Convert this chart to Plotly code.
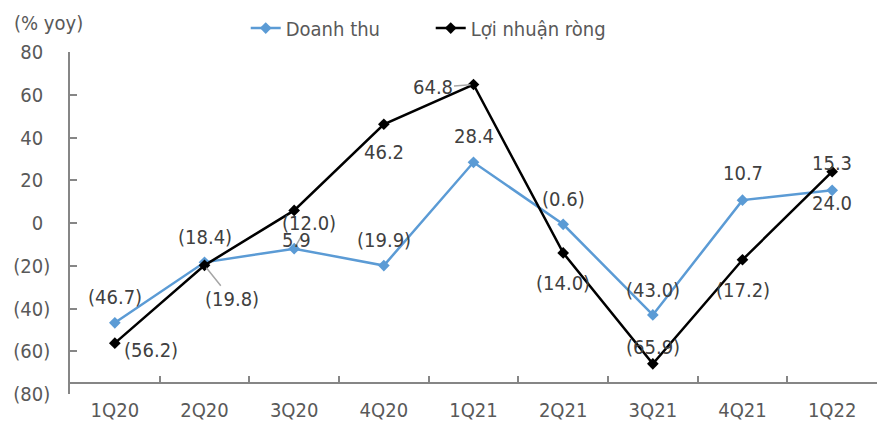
import plotly.graph_objects as go

categories = ["1Q20", "2Q20", "3Q20", "4Q20", "1Q21", "2Q21", "3Q21", "4Q21", "1Q22"]
doanh_thu = [-46.7, -18.4, -12.0, -19.9, 28.4, -0.6, -43.0, 10.7, 15.3]
loi_nhuan = [-56.2, -19.8, 5.9, 46.2, 64.8, -14.0, -65.9, -17.2, 24.0]
y_ticks = [-80, -60, -40, -20, 0, 20, 40, 60, 80]

# label placement offsets (pixels): (dx, dy-up, leader)
dt_offsets = [(0, 26, False), (0, 25, False), (15, 26, True), (0, 26, False), (0, 26, False),
              (0, 25, False), (0, 25, False), (0, 27, False), (0, 27, False)]
ln_offsets = [(36, -7, False), (27, -34, True), (2, -30, False), (0, -28, False), (-41, -3, True),
              (0, -30, False), (0, 17, False), (0, -30, False), (0, -31, False)]

FONT = "DejaVu Sans Condensed, Liberation Sans, Arial, sans-serif"
FS = 20
AXIS_COL = "#595959"
LBL_COL = "#404040"
BLUE = "#5B9BD5"


def fmt(v, dec=1):
    s = f"{abs(v):.{dec}f}"
    return f"({s})" if v < 0 else s


def tick_fmt(v):
    if v < 0:
        return f"({abs(v)})"
    return f"{v}<span style='color:rgba(0,0,0,0)'>)</span>"


fig = go.Figure()
fig.add_trace(go.Scatter(x=categories, y=doanh_thu, name="Doanh thu", mode="lines+markers",
                         line=dict(color=BLUE, width=2.5),
                         marker=dict(symbol="diamond", size=9, color=BLUE)))
fig.add_trace(go.Scatter(x=categories, y=loi_nhuan, name="Lợi nhuận ròng", mode="lines+markers",
                         line=dict(color="black", width=2.5),
                         marker=dict(symbol="diamond", size=9, color="black")))

for series, offs in ((doanh_thu, dt_offsets), (loi_nhuan, ln_offsets)):
    for c, v, (dx, dy, leader) in zip(categories, series, offs):
        if leader:
            fig.add_annotation(x=c, y=v, text=fmt(v), showarrow=True, arrowhead=0,
                               arrowwidth=1.5, arrowcolor="#A6A6A6", ax=dx, ay=-dy,
                               standoff=3, font=dict(family=FONT, size=FS, color=LBL_COL))
        else:
            fig.add_annotation(x=c, y=v, text=fmt(v), showarrow=False, xshift=dx, yshift=dy,
                               font=dict(family=FONT, size=FS, color=LBL_COL))

fig.add_annotation(xref="paper", yref="paper", x=-0.027, y=1.085, xanchor="center", yanchor="middle",
                   text="(% yoy)", showarrow=False, font=dict(family=FONT, size=FS, color=AXIS_COL))

fig.update_layout(
    width=877, height=421,
    margin=dict(l=70, r=0, t=52, b=27, autoexpand=False),
    paper_bgcolor="white", plot_bgcolor="white",
    font=dict(family=FONT, size=FS, color=AXIS_COL),
    showlegend=True,
    legend=dict(orientation="h", x=0.447, y=1.07, xanchor="center", yanchor="middle",
                entrywidth=140, entrywidthmode="pixels",
                font=dict(family=FONT, size=FS, color=AXIS_COL), bgcolor="rgba(0,0,0,0)"),
    xaxis=dict(type="category", range=[-0.5, 8.5], anchor="free", position=0.03125,
               showline=True, linecolor="#868686", linewidth=1.5, automargin=False,
               ticks="inside", tickson="boundaries", ticklen=7, tickcolor="#868686", tickwidth=1.5,
               showgrid=False, zeroline=False, ticklabelstandoff=9,
               tickfont=dict(family=FONT, size=FS, color=AXIS_COL)),
    yaxis=dict(range=[-80, 80], tickvals=y_ticks, ticktext=[tick_fmt(v) for v in y_ticks],
               showline=True, linecolor="#868686", linewidth=1.5, automargin=False,
               ticks="inside", ticklen=7, tickcolor="#868686", tickwidth=1.5,
               showgrid=False, zeroline=False, ticklabelstandoff=14,
               tickfont=dict(family=FONT, size=FS, color=AXIS_COL)),
)

fig.write_html("out.html")
